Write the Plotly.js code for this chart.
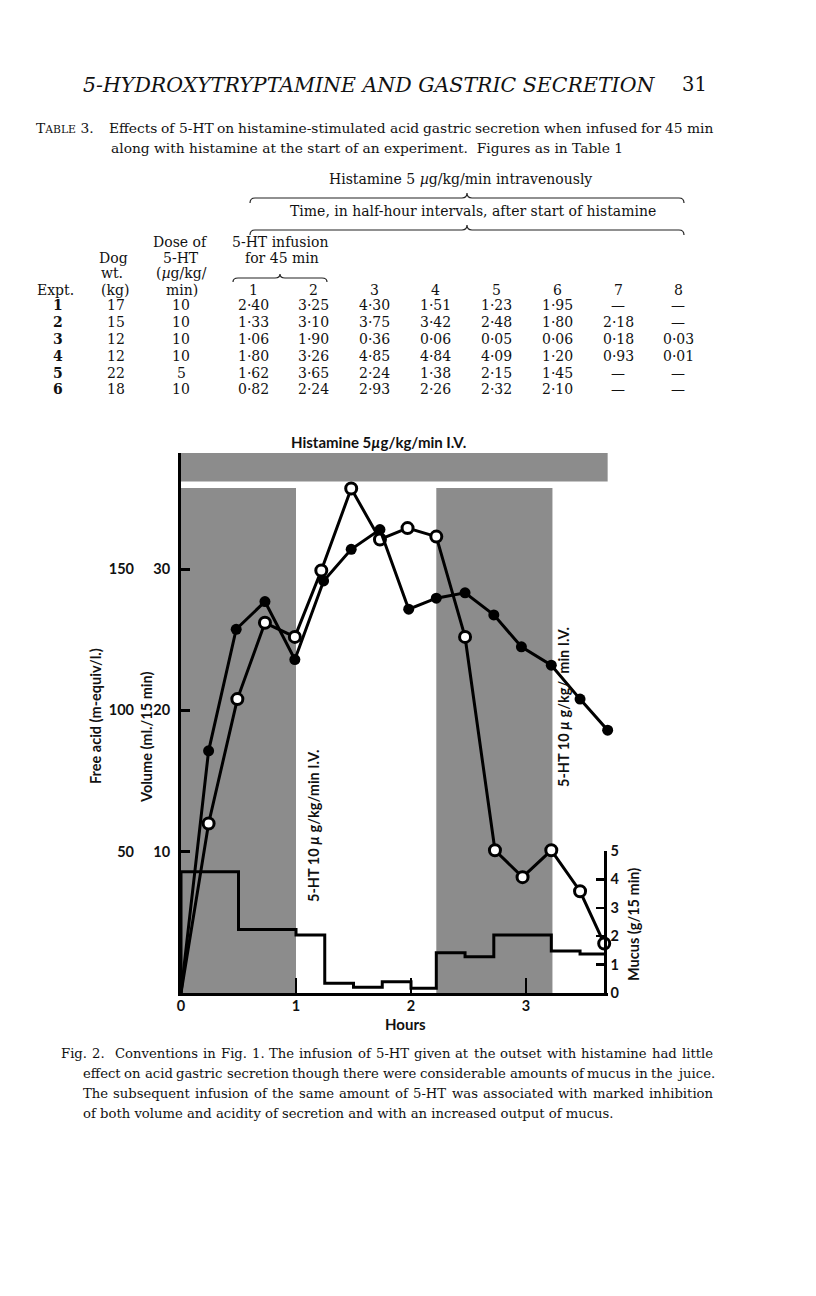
<!DOCTYPE html>
<html><head><meta charset="utf-8">
<script src="https://cdn.plot.ly/plotly-3.0.1.min.js"></script>
<style>html,body{margin:0;padding:0;background:#fff;}#chart{width:816px;height:1296px;}</style>
</head><body><div id="chart"></div>
<script>
// ---------- Table 3 data ----------
const exptNo = [1, 2, 3, 4, 5, 6];
const dogWeightKg = [17, 15, 12, 12, 22, 18];
const doseOf5HT = [10, 10, 10, 10, 5, 10];
const timeColumns = ['1', '2', '3', '4', '5', '6', '7', '8'];
const expt1 = [2.40, 3.25, 4.30, 1.51, 1.23, 1.95, null, null];
const expt2 = [1.33, 3.10, 3.75, 3.42, 2.48, 1.80, 2.18, null];
const expt3 = [1.06, 1.90, 0.36, 0.06, 0.05, 0.06, 0.18, 0.03];
const expt4 = [1.80, 3.26, 4.85, 4.84, 4.09, 1.20, 0.93, 0.01];
const expt5 = [1.62, 3.65, 2.24, 1.38, 2.15, 1.45, null, null];
const expt6 = [0.82, 2.24, 2.93, 2.26, 2.32, 2.10, null, null];

// ---------- Fig. 2 data ----------
const hourTicks = [0, 1, 2, 3];
const volumeTicks = [10, 20, 30];
const acidTicks = [50, 100, 150];
const mucusTicks = [0, 1, 2, 3, 4, 5];
const volumeHours = [0, 0.24, 0.49, 0.73, 0.99, 1.22, 1.48, 1.73, 1.97, 2.22, 2.47, 2.73, 2.97, 3.22, 3.47, 3.68];
const volumeMl = [0, 12.0, 20.8, 26.2, 25.2, 29.9, 35.7, 32.1, 32.9, 32.3, 25.2, 10.1, 8.2, 10.1, 7.2, 3.5];
const acidHours = [0, 0.24, 0.48, 0.73, 0.99, 1.24, 1.48, 1.73, 1.98, 2.22, 2.47, 2.72, 2.96, 3.22, 3.47, 3.71];
const acidMeq = [0, 85.7, 128.7, 138.5, 118, 145.8, 157, 164, 135.8, 139.7, 141.6, 133.8, 122.5, 116, 104, 93];
const mucusHours = [0, 0, 0.5, 1.0, 1.25, 1.5, 1.75, 2.0, 2.22, 2.47, 2.72, 3.22, 3.47, 3.70];
const mucusG = [0, 4.27, 2.24, 2.04, 0.34, 0.20, 0.40, 0.17, 1.42, 1.28, 2.04, 1.48, 1.37, 1.37];
const histamineHours = [0, 3.71];
const infusion1Hours = [0, 1.0];
const infusion2Hours = [2.22, 3.23];

// ---------- page geometry ----------
const L = 181, R = 608, T = 453, B = 993;
const px = x => (x - L) / (R - L);
const py = y => (B - y) / (B - T);
const SERIF = 'DejaVu Serif';
const SANS = 'Lato';
const INK = '#111';

const cv = document.createElement('canvas').getContext('2d');
function measure(t, size, family, style) {
  cv.font = `${style || 'normal'} ${size}px "${family}"`;
  return cv.measureText(t).width;
}

const annotations = [];
function ann(x, y, text, o) {
  o = o || {};
  annotations.push({
    xref: 'paper', yref: 'paper', x: px(x), y: py(y), text: text, showarrow: false,
    xanchor: o.xa || 'center', yanchor: o.ya || 'middle', textangle: o.angle || 0,
    borderpad: 0,
    font: {family: o.family || SERIF, size: o.size || 14, color: INK,
           weight: o.weight || 'normal', style: o.style || 'normal'}
  });
}
function justify(text, x1, x2, y, size) {
  const words = text.split(' ');
  const ws = words.map(w => measure(w, size, SERIF));
  const tot = ws.reduce((a, b) => a + b, 0);
  const gap = (x2 - x1 - tot) / (words.length - 1);
  let x = x1;
  words.forEach((w, i) => { ann(x, y, w, {xa: 'left', size: size}); x += ws[i] + gap; });
}

// running head
ann(82, 85, '5-HYDROXYTRYPTAMINE AND GASTRIC SECRETION', {xa: 'left', size: 20.5, style: 'italic'});
ann(708, 85, '31', {xa: 'right', size: 19.5});

// table caption
const capSize = 13.8;
ann(35, 128, 'T<span style="font-size:10.8px">ABLE</span> 3.', {xa: 'left', size: capSize});
justify('Effects of 5-HT on histamine-stimulated acid gastric secretion when infused for 45 min', 108, 712, 128, capSize);
ann(110, 148, 'along with histamine at the start of an experiment.  Figures as in Table 1', {xa: 'left', size: capSize});

// table headers
ann(460, 179, 'Histamine 5 <i>µ</i>g/kg/min intravenously');
ann(473, 211, 'Time, in half-hour intervals, after start of histamine');
ann(180, 242, 'Dose of');
ann(280, 242, '5-HT infusion');
ann(113, 258, 'Dog');
ann(181, 258, '5-HT');
ann(282, 258, 'for 45 min');
ann(112, 273, 'wt.');
ann(181, 273, '(<i>µ</i>g/kg/');
ann(55, 290, 'Expt.');
ann(115, 290, '(kg)');
ann(182, 290, 'min)');
const colX = [253, 313, 374, 435, 496, 557, 618, 678];
timeColumns.forEach((c, i) => ann(colX[i], 290, c));

const rows = [expt1, expt2, expt3, expt4, expt5, expt6];
const rowY = [305, 322, 339, 356, 373, 389];
const fmt = v => v === null ? '—' : v.toFixed(2).replace('.', '·');
rows.forEach((r, j) => {
  ann(58, rowY[j], '<b>' + exptNo[j] + '</b>');
  ann(116, rowY[j], String(dogWeightKg[j]));
  ann(181, rowY[j], String(doseOf5HT[j]));
  r.forEach((v, i) => ann(colX[i], rowY[j], fmt(v)));
});

// braces
function brace(x1, x2, xc, y, h) {
  const P = (x, yy) => px(x) + ',' + py(yy);
  return 'M' + P(x1, y + h) + ' Q' + P(x1, y) + ' ' + P(x1 + 5, y) +
    ' L' + P(xc - 5, y) + ' Q' + P(xc, y) + ' ' + P(xc, y - h) +
    ' Q' + P(xc, y) + ' ' + P(xc + 5, y) + ' L' + P(x2 - 5, y) +
    ' Q' + P(x2, y) + ' ' + P(x2, y + h);
}
const shapes = [];
[[250, 684, 467, 198, 5], [250, 684, 467, 230, 5], [233, 327, 280, 278, 4]].forEach(b => {
  shapes.push({type: 'path', xref: 'paper', yref: 'paper', path: brace(...b),
    line: {color: '#222', width: 1.2}});
});

// figure shading
const SHADE = '#8c8c8c';
shapes.push({type: 'rect', xref: 'x', yref: 'paper', x0: histamineHours[0], x1: histamineHours[1],
  y0: py(481.5), y1: 1, fillcolor: SHADE, line: {width: 0}, layer: 'below'});
[infusion1Hours, infusion2Hours].forEach(h => shapes.push({type: 'rect', xref: 'x', yref: 'paper',
  x0: h[0], x1: h[1], y0: 0, y1: py(488), fillcolor: SHADE, line: {width: 0}, layer: 'below'}));

// figure text
const FS = 14.5;
ann(378, 442, 'Histamine 5<i>µ</i>g/kg/min I.V.', {family: SANS, weight: 'bold', size: 15});
ann(313, 826, '5-HT 10 <i>µ</i> g/kg/min I.V.', {family: SANS, weight: 'bold', size: FS, angle: -90});
ann(563, 707, '5-HT 10 <i>µ</i> g/kg/  min I.V.', {family: SANS, weight: 'bold', size: FS, angle: -90});
ann(95, 716, 'Free acid (m-equiv/l.)', {family: SANS, weight: 'bold', size: FS, angle: -90});
ann(146, 738, 'Volume (ml./15 min)', {family: SANS, weight: 'bold', size: FS, angle: -90});
ann(633, 925, 'Mucus (g/15 min)', {family: SANS, weight: 'bold', size: FS, angle: -90});
ann(405, 1024, 'Hours', {family: SANS, weight: 'bold', size: 15});

// figure caption
const cs = 13.2;
justify('Fig. 2.  Conventions in Fig. 1. The infusion of 5-HT given at the outset with histamine had little', 60, 712, 1053, cs);
justify('effect on acid gastric secretion though there were considerable amounts of mucus in the juice.', 82, 712, 1073, cs);
justify('The subsequent infusion of the same amount of 5-HT was associated with marked inhibition', 82, 712, 1093, cs);
ann(82, 1113, 'of both volume and acidity of secretion and with an increased output of mucus.', {xa: 'left', size: cs});

const tickFont = {family: SANS, size: 14.5, color: INK, weight: 'bold'};
const traces = [
  {x: mucusHours, y: mucusG, yaxis: 'y3', mode: 'lines', line: {shape: 'hv', color: '#000', width: 3},
   cliponaxis: false, hoverinfo: 'skip'},
  {x: volumeHours, y: volumeMl, yaxis: 'y', mode: 'lines+markers', line: {color: '#000', width: 3},
   marker: {symbol: 'circle', color: '#ffffff', opacity: 1, size: volumeHours.map((t, i) => i === 0 ? 0 : 11),
            line: {color: '#000', width: volumeHours.map((t, i) => i === 0 ? 0 : 3)}},
   cliponaxis: false},
  {x: acidHours, y: acidMeq, yaxis: 'y2', mode: 'lines+markers', line: {color: '#000', width: 3},
   marker: {symbol: 'circle', color: '#000', opacity: 1, size: acidHours.map((t, i) => i === 0 ? 0 : 11),
            line: {color: '#000', width: 0}},
   cliponaxis: false}
];

const layout = {
  width: 816, height: 1296, showlegend: false,
  paper_bgcolor: '#fff', plot_bgcolor: 'rgba(0,0,0,0)',
  margin: {l: L, r: 816 - R, t: T, b: 1296 - B, pad: 0},
  xaxis: {range: [0, (R - L) / 115], tickvals: hourTicks, ticktext: hourTicks.map(String),
    ticks: 'inside', ticklen: 15, tickwidth: 2, tickcolor: '#000', showline: true, linewidth: 3,
    linecolor: '#000', showgrid: false, zeroline: false, tickfont: tickFont, ticklabelstandoff: -2,
    fixedrange: true},
  yaxis: {range: [0, (B - T) / 14.13], tickvals: volumeTicks, ticks: 'inside', ticklen: 9, tickwidth: 3,
    tickcolor: '#000', showline: true, linewidth: 3, linecolor: '#000', showgrid: false, zeroline: false,
    tickfont: tickFont, ticklabelstandoff: 5, fixedrange: true},
  yaxis2: {overlaying: 'y', side: 'left', range: [0, 5 * (B - T) / 14.13], tickvals: acidTicks,
    ticks: '', showline: false, showgrid: false, zeroline: false, tickfont: tickFont,
    ticklabelstandoff: 46, fixedrange: true},
  yaxis3: {domain: [0, py(851)], anchor: 'free', position: px(605), side: 'right', range: [0, 5],
    tickvals: mucusTicks, ticks: 'inside', ticklen: 8, tickwidth: 2.5, tickcolor: '#000',
    showline: true, linewidth: 2.5, linecolor: '#000', showgrid: false, zeroline: false,
    tickfont: tickFont, ticklabelstandoff: 1, fixedrange: true},
  shapes: shapes,
  annotations: annotations
};
Plotly.newPlot('chart', traces, layout, {displayModeBar: false, staticPlot: true});
</script></body></html>
